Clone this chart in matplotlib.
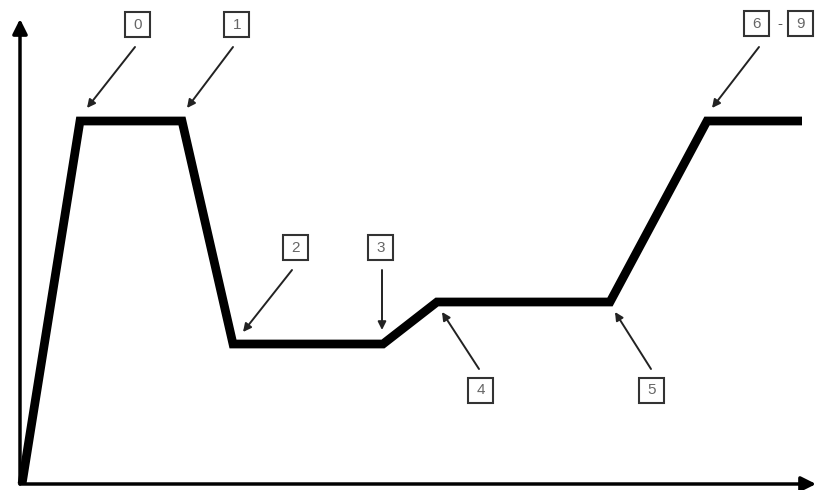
import matplotlib.pyplot as plt
from matplotlib.patches import Rectangle

# path vertices (origin at lower-left corner of the axes)
x_pts = [2, 60, 162, 213, 363, 417, 590, 687, 782]
y_pts = [0, 363, 363, 140, 140, 182, 182, 363, 363]

labels = ['0', '1', '2', '3', '4', '5', '6', '9']
# box centres
lab_x = [118, 217, 276, 361, 461, 632, 737, 781]
lab_y = [459, 459, 236, 236, 94, 94, 460, 460]
# arrows: start -> tip
arr_start = [(115, 437), (213, 437), (272, 214), (362, 214), (459, 115), (631, 115), (739, 437)]
arr_end = [(67, 376), (167, 376), (223, 152), (362, 154), (422, 172), (595, 172), (692, 376)]

fig = plt.figure(figsize=(8.17, 4.9), dpi=100)
ax = fig.add_axes([0, 0, 1, 1])
ax.set_xlim(-20, 797)
ax.set_ylim(-6, 484)
ax.axis('off')

# axes with arrow heads
ax.annotate('', xy=(0, 465), xytext=(0, 0),
            arrowprops=dict(arrowstyle='-|>', lw=2.5, color='k', mutation_scale=22, shrinkA=0, shrinkB=0))
ax.annotate('', xy=(796, 0), xytext=(0, 0),
            arrowprops=dict(arrowstyle='-|>', lw=2.5, color='k', mutation_scale=22, shrinkA=0, shrinkB=0))

ax.plot(x_pts, y_pts, color='k', lw=6.3, solid_joinstyle='miter', solid_capstyle='butt')

for s, e in zip(arr_start, arr_end):
    ax.annotate('', xy=e, xytext=s,
                arrowprops=dict(arrowstyle='-|>', lw=1.4, color='#222', mutation_scale=12, shrinkA=0, shrinkB=0))

for t, cx, cy in zip(labels, lab_x, lab_y):
    ax.add_patch(Rectangle((cx - 12.5, cy - 12.5), 25, 25, fill=False, ec='#333', lw=1.5))
    ax.text(cx, cy, t, ha='center', va='center', fontsize=11, color='#666', family='Liberation Sans')
ax.text(760, 460, '-', ha='center', va='center', fontsize=11, color='#555', family='Liberation Sans')

fig.savefig('out.png', dpi=100)
